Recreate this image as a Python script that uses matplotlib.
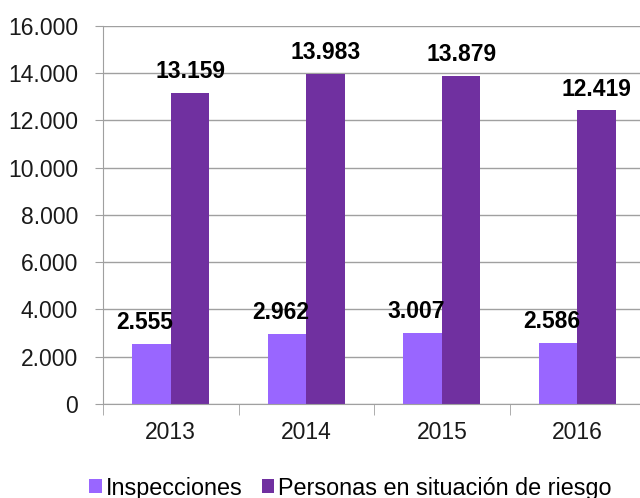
import numpy as np
import matplotlib.pyplot as plt

years = ["2013", "2014", "2015", "2016"]
inspecciones = [2555, 2962, 3007, 2586]
personas = [13159, 13983, 13879, 12419]
series_names = ["Inspecciones", "Personas en situación de riesgo"]
colors = ["#9966FF", "#7030A0"]
grid_color = "#A0A0A0"


def fmt(v):
    return f"{v:,}".replace(",", ".")


plt.rcParams["font.family"] = ["Liberation Sans", "DejaVu Sans"]

fig = plt.figure(figsize=(6.4, 4.98), dpi=100)
# the plot area runs a little past the right edge, as in the original
ax = fig.add_axes([0.161, 0.189, 0.847, 0.759])

x = np.arange(len(years))
w = 0.284
b1 = ax.bar(x - w / 2, inspecciones, w, color=colors[0], label=series_names[0])
b2 = ax.bar(x + w / 2, personas, w, color=colors[1], label=series_names[1])

# labels of the light bars end at the bar's right edge, the dark ones are centred
for rect, v in zip(b1, inspecciones):
    ax.annotate(fmt(v), (rect.get_x() + rect.get_width(), v),
                xytext=(2, 7), textcoords="offset points",
                ha="right", va="bottom", fontsize=16.5, fontweight="bold")
for rect, v in zip(b2, personas):
    ax.annotate(fmt(v), (rect.get_x() + rect.get_width() / 2, v),
                xytext=(0, 7), textcoords="offset points",
                ha="center", va="bottom", fontsize=16.5, fontweight="bold")

ax.set_ylim(0, 16000)
ax.set_xlim(-0.5, len(years) - 0.5)
ax.set_yticks(range(0, 16001, 2000))
ax.set_yticklabels([fmt(v) for v in range(0, 16001, 2000)], fontsize=16.5)
ax.set_xticks(x)
ax.set_xticklabels(years, fontsize=16.5)
ax.set_xticks(np.arange(-0.5, len(years), 1), minor=True)
ax.tick_params(axis="x", which="major", length=0, pad=12)
ax.tick_params(axis="x", which="minor", length=8, color=grid_color)
ax.tick_params(axis="y", length=6, color=grid_color, pad=12)
ax.tick_params(colors="#1a1a1a", which="both", axis="both")
ax.tick_params(which="both", color=grid_color)

ax.yaxis.grid(True, color=grid_color, linewidth=1)
ax.set_axisbelow(True)
for s in ("top", "right"):
    ax.spines[s].set_visible(False)
ax.spines["left"].set_color(grid_color)
ax.spines["bottom"].set_color(grid_color)

fig.legend(loc="center", bbox_to_anchor=(0.548, 0.02), ncol=2, frameon=False,
           fontsize=16.8, handlelength=0.52, handleheight=0.52, handletextpad=0.2,
           columnspacing=0.8, borderpad=0)

fig.savefig("out.png", dpi=100)
